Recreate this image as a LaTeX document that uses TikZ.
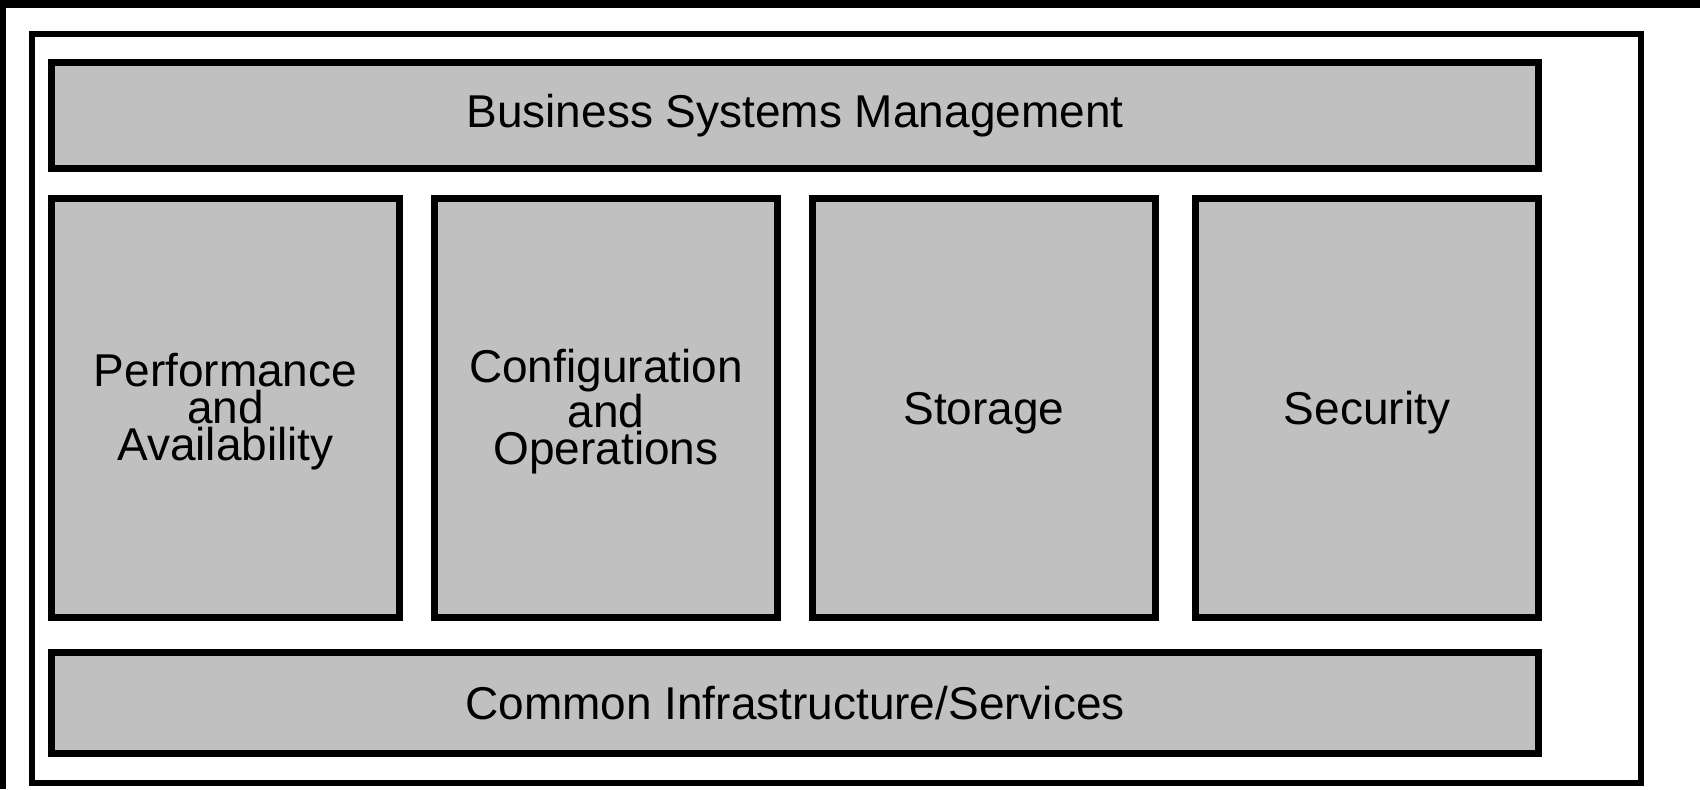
\documentclass[tikz,border=0pt]{standalone}
\usepackage{fontspec}
\setmainfont{Liberation Sans}
\definecolor{boxgray}{HTML}{C0C0C0}
\begin{document}
\begin{tikzpicture}[x=0.5pt,y=-0.5pt,
  boxtext/.style={align=center, inner sep=0pt, font=\fontsize{23}{18.5}\selectfont},
  box/.style={draw=black, line width=3.5pt, fill=boxgray, inner sep=0pt, boxtext},
  tallbox/.style={box, minimum height=209.5pt},
  frame/.style={draw=black, line width=3pt, inner sep=0pt}]
\useasboundingbox (0,0) rectangle (1700,789);
\fill[white] (0,0) rectangle (1700,789);
% outer (cropped) frame: only top and left edges visible
\coordinate (tl) at (0,4);
\coordinate (tr) at (1700,4);
\coordinate (lt) at (3,0);
\coordinate (lb) at (3,789);
\draw[line width=4pt] (tl) -- (tr);
\draw[line width=3pt] (lt) -- (lb);
% inner frame
\node[frame, minimum width=804.5pt, minimum height=374.5pt] (frm) at (836,408) {};
% boxes
\node[box, minimum width=743.5pt, minimum height=53pt] (bsm) at (795,115.5) {Business Systems Management};
\node[tallbox, minimum width=174pt] (pa) at (225.5,408) {};
\node[tallbox, minimum width=171.5pt] (co) at (606,408) {};
\node[tallbox, minimum width=171.5pt] (st) at (984,408) {};
\node[tallbox, minimum width=171.5pt] (se) at (1367,408) {};
\node[boxtext] (pat) at ([yshift=-2pt]pa.center) {Performance\\and\\Availability};
\node[boxtext] (cot) at ([yshift=-2pt]co.center) {Configuration\\and\\Operations};
\node[boxtext] (stt) at ([yshift=-2.5pt]st.center) {Storage};
\node[boxtext] (set) at ([yshift=-2.5pt]se.center) {Security};
\node[box, minimum width=743.5pt, minimum height=50.5pt] (cis) at (795,703) {Common Infrastructure/Services};
\end{tikzpicture}
\end{document}
